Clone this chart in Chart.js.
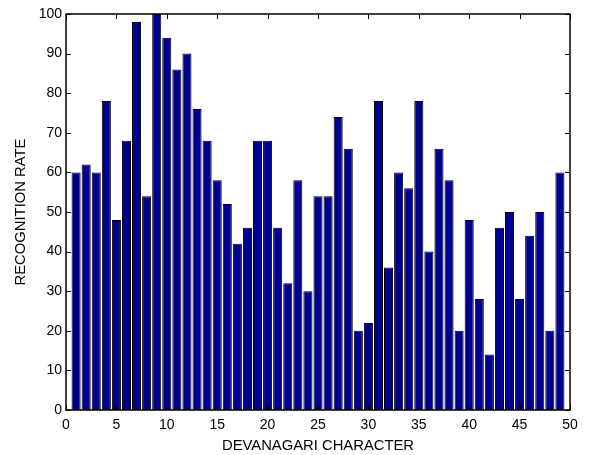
<!DOCTYPE html>
<html>
<head>
<meta charset="utf-8">
<script src="https://cdn.jsdelivr.net/npm/chart.js@4/dist/chart.umd.min.js"></script>
<style>
  html, body { margin: 0; padding: 0; background: #fff; }
  #wrap { width: 590px; height: 455px; }
</style>
</head>
<body>
<div id="wrap"><canvas id="chart"></canvas></div>
<script>
  const characters = [
    1, 2, 3, 4, 5, 6, 7, 8, 9, 10, 11, 12, 13, 14, 15, 16, 17, 18, 19, 20, 21, 22, 23, 24, 25,
    26, 27, 28, 29, 30, 31, 32, 33, 34, 35, 36, 37, 38, 39, 40, 41, 42, 43, 44, 45, 46, 47, 48, 49,
  ];
  const rates = [
    60, 62, 60, 78, 48, 68, 98, 54, 100, 94, 86, 90, 76, 68, 58, 52, 42, 46, 68, 68, 46, 32, 58, 30, 54,
    54, 74, 66, 20, 22, 78, 36, 60, 56, 78, 40, 66, 58, 20, 48, 28, 14, 46, 50, 28, 44, 50, 20, 60,
  ];
  const xTicks = [0, 5, 10, 15, 20, 25, 30, 35, 40, 45, 50];
  const yTicks = [0, 10, 20, 30, 40, 50, 60, 70, 80, 90, 100];

  const tickFont = { family: "'Liberation Sans', Arial, sans-serif", size: 14 };
  const titleFont = { family: "'Liberation Sans', Arial, sans-serif", size: 14.8 };

  // box around the axes with inward tick marks on all four sides
  const boxFrame = {
    id: "boxFrame",
    afterDraw(chart) {
      const { ctx, chartArea: a, scales } = chart;
      const len = 5;
      ctx.save();
      ctx.strokeStyle = "#000";
      ctx.lineWidth = 1;
      ctx.beginPath();
      xTicks.forEach((v) => {
        const px = Math.round(scales.x.getPixelForValue(v)) + 0.5;
        ctx.moveTo(px, a.bottom); ctx.lineTo(px, a.bottom - len);
        ctx.moveTo(px, a.top); ctx.lineTo(px, a.top + len);
      });
      yTicks.forEach((v) => {
        const py = Math.round(scales.y.getPixelForValue(v)) + 0.5;
        ctx.moveTo(a.left, py); ctx.lineTo(a.left + len, py);
        ctx.moveTo(a.right, py); ctx.lineTo(a.right - len, py);
      });
      ctx.stroke();
      ctx.lineWidth = 1.5;
      ctx.strokeRect(a.left, a.top, a.right - a.left, a.bottom - a.top);
      ctx.restore();
    },
  };

  new Chart(document.getElementById("chart"), {
    type: "bar",
    data: {
      datasets: [
        {
          label: "Recognition rate",
          data: characters.map((c, i) => ({ x: c, y: rates[i] })),
          backgroundColor: "#00008f",
          borderColor: "#000",
          borderWidth: 1,
          barPercentage: 0.9,
          categoryPercentage: 1,
        },
      ],
    },
    options: {
      responsive: true,
      maintainAspectRatio: false,
      animation: false,
      layout: { padding: { left: 0, right: 20, top: 14, bottom: 0 } },
      plugins: { legend: { display: false }, tooltip: { enabled: false } },
      scales: {
        x: {
          type: "linear",
          min: 0,
          max: 50,
          offset: false,
          afterBuildTicks(scale) { scale.ticks = xTicks.map((v) => ({ value: v })); },
          afterFit(scale) { scale.height = 45; },
          grid: { display: false, drawTicks: false },
          border: { display: false },
          ticks: { color: "#000", font: tickFont, padding: 7, maxRotation: 0, autoSkip: false },
          title: { display: true, text: "DEVANAGARI CHARACTER", color: "#000", font: titleFont, padding: { top: 0, bottom: 0 } },
        },
        y: {
          min: 0,
          max: 100,
          afterBuildTicks(scale) { scale.ticks = yTicks.map((v) => ({ value: v })); },
          afterFit(scale) { scale.width = 66; },
          grid: { display: false, drawTicks: false },
          border: { display: false },
          ticks: { color: "#000", font: tickFont, padding: 4, autoSkip: false },
          title: { display: true, text: "RECOGNITION RATE", color: "#000", font: titleFont, padding: { top: 12, bottom: 0 } },
        },
      },
    },
    plugins: [boxFrame],
  });
</script>
</body>
</html>
